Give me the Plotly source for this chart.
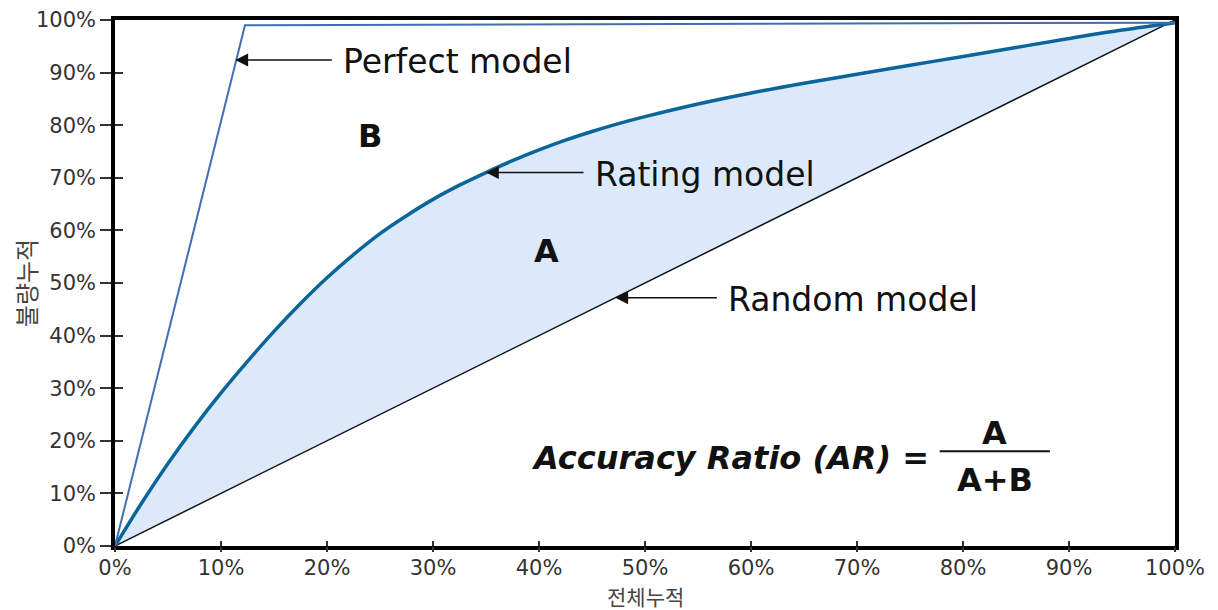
import plotly.graph_objects as go

# ---- data (fractions of population / defaults) ----
x_random = [0.0, 1.0]
y_random = [0.0, 1.0]

x_perfect = [0.0, 0.1226, 1.0]
y_perfect = [0.0, 0.99, 0.995]

x_rating = [0.0, 0.025, 0.05, 0.075, 0.10, 0.125, 0.15, 0.175, 0.20, 0.225, 0.25,
            0.275, 0.30, 0.325, 0.35, 0.375, 0.40, 0.425, 0.45, 0.475, 0.50, 0.55,
            0.60, 0.65, 0.70, 0.75, 0.80, 0.85, 0.90, 0.95, 1.0]
y_rating = [0.0, 0.0813, 0.157, 0.2265, 0.291, 0.351, 0.408, 0.461, 0.510,
            0.554, 0.594, 0.628, 0.659, 0.686, 0.710, 0.7325, 0.753, 0.7715,
            0.788, 0.803, 0.8163, 0.8403, 0.8613, 0.8798, 0.8968, 0.9138, 0.9308,
            0.9478, 0.9648, 0.9808, 0.9948]

tick_vals = [i / 10 for i in range(11)]
tick_text = [f"{i * 10}%" for i in range(11)]

x_title = "전체누적"
y_title = "불량누적"

FONT = "DejaVu Sans"
fig = go.Figure()

fig.add_trace(go.Scatter(x=x_random, y=y_random, mode="lines",
                         line=dict(color="#111111", width=1.5),
                         name="Random model", hoverinfo="skip"))
fig.add_trace(go.Scatter(x=x_rating, y=y_rating, mode="lines",
                         line=dict(color="#0b6598", width=3.5, shape="spline", smoothing=1.0),
                         fill="tonexty", fillcolor="#dbe9fb",
                         name="Rating model"))
fig.add_trace(go.Scatter(x=x_perfect, y=y_perfect, mode="lines",
                         line=dict(color="#3d70b2", width=2),
                         name="Perfect model"))
# invisible trace to carry the second set of tick marks
fig.add_trace(go.Scatter(x=x_random, y=y_random, mode="lines", xaxis="x2", yaxis="y2",
                         line=dict(width=0), opacity=0, hoverinfo="skip", showlegend=False))

tickfont = dict(family=FONT, size=21, color="#333333")
fig.update_layout(
    width=1210, height=602,
    margin=dict(l=107, r=43, t=12, b=64),
    paper_bgcolor="white", plot_bgcolor="white",
    showlegend=False,
    xaxis=dict(range=[0, 1], tickvals=tick_vals, ticktext=tick_text,
               ticks="inside", ticklen=5, tickwidth=1.5, tickcolor="#333",
               showgrid=False, zeroline=False, automargin=False,
               ticklabeloverflow="allow",
               showline=True, linecolor="black", linewidth=3.5, mirror=True,
               tickfont=tickfont),
    yaxis=dict(range=[0, 1], tickvals=tick_vals, ticktext=tick_text,
               ticks="outside", ticklen=11, tickwidth=1.5, tickcolor="#333",
               showgrid=False, zeroline=False, automargin=False,
               ticklabeloverflow="allow",
               showline=True, linecolor="black", linewidth=3.5, mirror=True,
               tickfont=tickfont,
               title=dict(text=y_title, font=dict(family="Noto Sans CJK KR", size=24, color="#444"),
                          standoff=11)),
    xaxis2=dict(range=[0, 1], overlaying="x", tickvals=tick_vals, ticks="outside",
                ticklen=5, tickwidth=1.5, tickcolor="#333", showticklabels=False,
                showgrid=False, zeroline=False, showline=False, automargin=False),
    yaxis2=dict(range=[0, 1], overlaying="y", tickvals=tick_vals, ticks="inside",
                ticklen=8, tickwidth=1.5, tickcolor="#333", showticklabels=False,
                showgrid=False, zeroline=False, showline=False, automargin=False),
)

# x-axis title placed as a paper annotation below the tick labels
fig.add_annotation(x=0.5, y=0, xref="paper", yref="paper", text=x_title,
                   showarrow=False, xanchor="center", yanchor="middle", yshift=-50,
                   font=dict(family="Noto Sans CJK KR", size=21, color="#444"))

label_font = dict(family=FONT, size=33, color="#111111")
bold_font = dict(family="DejaVu Sans", size=32, color="#111111")

def arrow_label(x, y, text, tail):
    fig.add_annotation(x=x, y=y, xref="x", yref="y", text="", showarrow=True,
                       ax=tail, ay=0, arrowhead=2, arrowsize=1.6, arrowwidth=1.6,
                       arrowcolor="#111111")
    fig.add_annotation(x=x, y=y, xref="x", yref="y", text=text, showarrow=False,
                       xanchor="left", yanchor="middle", xshift=tail + 8, yshift=-2,
                       font=label_font)

arrow_label(0.1135, 0.924, "Perfect model", 98)
arrow_label(0.350, 0.710, "Rating model", 99)
arrow_label(0.472, 0.472, "Random model", 103)

fig.add_annotation(x=0.241, y=0.78, xref="x", yref="y", text="<b>B</b>",
                   showarrow=False, font=bold_font)
fig.add_annotation(x=0.407, y=0.56, xref="x", yref="y", text="<b>A</b>",
                   showarrow=False, font=bold_font)

fig.add_annotation(x=0.77, y=0.168, xref="x", yref="y", text="<b><i>Accuracy Ratio (AR) =</i></b>",
                   showarrow=False, xanchor="right", yanchor="middle", font=bold_font)
fig.add_annotation(x=0.83, y=0.215, xref="x", yref="y", text="<b>A</b>",
                   showarrow=False, yanchor="middle", font=bold_font)
fig.add_annotation(x=0.83, y=0.125, xref="x", yref="y", text="<b>A+B</b>",
                   showarrow=False, yanchor="middle", font=bold_font)
fig.add_shape(type="line", xref="x", yref="y", x0=0.778, x1=0.882, y0=0.18, y1=0.18,
              line=dict(color="#111111", width=2))

fig.write_html("out.html")
